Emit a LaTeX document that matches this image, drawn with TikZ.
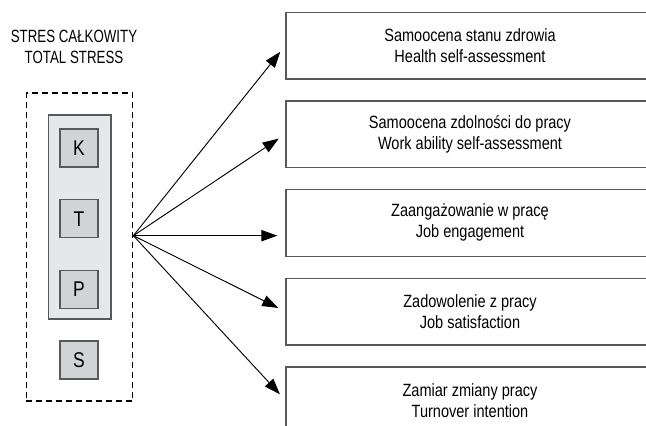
\documentclass[tikz,border=0pt]{standalone}
\usepackage{fontspec}
\setmainfont[FakeStretch=0.82]{Liberation Sans}
\newfontfamily\waski[FakeStretch=0.75]{Liberation Sans}
\usetikzlibrary{arrows.meta,fit,positioning}

\definecolor{jasny}{HTML}{E6E7E8}
\definecolor{ciemny}{HTML}{D1D3D4}
\definecolor{obrys}{HTML}{58595B}

\begin{document}
\begin{tikzpicture}[x=0.75pt,y=-0.75pt,font=\fontsize{13.3}{15.75}\selectfont]
\tikzset{
    %Define standard arrow tip
    >={Triangle[length=12pt,width=8.5pt]},
    %Define style for the outcome boxes
    wynik/.style={
           rectangle,
           draw=obrys, line width=1pt,
           minimum width=276pt,
           minimum height=50pt,
           align=center},
    %Define style for the letter boxes
    litera/.style={
           rectangle,
           draw=obrys, line width=1pt,
           fill=ciemny,
           font=\fontsize{16}{18}\selectfont,
           minimum size=28.5pt,
           inner sep=0pt},
    % Define arrow style
    strzalka/.style={
           ->,
           line width=0.7pt,
           shorten >=6pt}
}
	\useasboundingbox (0,0) rectangle (646,425);
	\clip (0,0) rectangle (646,425);

	\node[align=center,font=\waski\fontsize{13.3}{15.75}\selectfont] (tytul) at (74,47) {STRES CAŁKOWITY\\TOTAL STRESS};

 %stress components
	\node[draw=obrys,line width=1pt,fill=jasny,minimum width=47pt,minimum height=153pt] (pole) at (79.5,217) {};
	\node[litera] (K) at (79,148) {K};
	\node[litera,below=23.5pt of K] (T) {T};
	\node[litera,below=23.5pt of T] (P) {P};
	\node[litera,below=23.5pt of P] (S) {S};
	\node[draw,line width=0.8pt,dash pattern=on 4.5pt off 3pt,inner sep=16pt,fit=(pole)(S)] (ramka) {};
	\coordinate (fan) at ([yshift=8.5pt]ramka.east);

 %outcomes
	\node[wynik] (zdrowie) at (470,45.5) {Samoocena stanu zdrowia\\Health self-assessment};
	\node[wynik,below=15.5pt of zdrowie] (zdolnosc) {Samoocena zdolności do pracy\\Work ability self-assessment};
	\node[wynik,below=15.5pt of zdolnosc] (zaang) {Zaangażowanie w pracę\\Job engagement};
	\node[wynik,below=15.5pt of zaang] (zadow) {Zadowolenie z pracy\\Job satisfaction};
	\node[wynik,below=15.5pt of zadow] (zamiar) {Zamiar zmiany pracy\\Turnover intention};

	\draw[strzalka] (fan) -- (zdrowie.west);
	\draw[strzalka] (fan) -- (zdolnosc.west);
	\draw[strzalka] (fan) -- (fan -| zaang.west);
	\draw[strzalka] (fan) -- (zadow.west);
	\draw[strzalka] (fan) -- (zamiar.west);

\end{tikzpicture}
\end{document}
